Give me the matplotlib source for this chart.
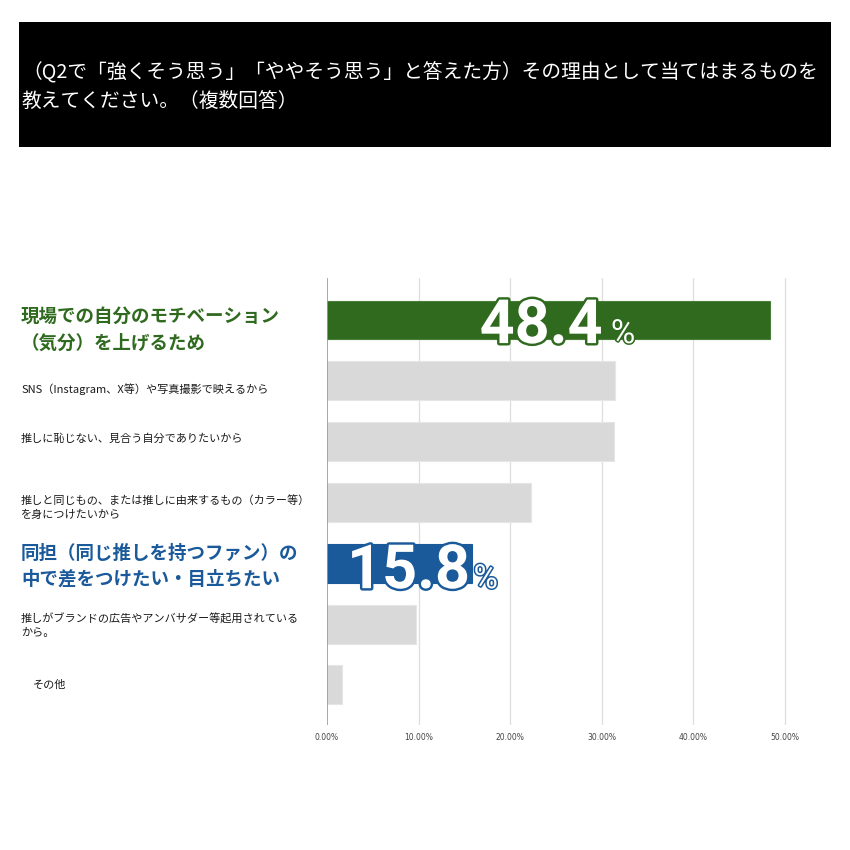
import matplotlib
matplotlib.use("Agg")
import matplotlib.pyplot as plt
import matplotlib.patheffects as pe
from matplotlib.transforms import blended_transform_factory
from matplotlib.patches import Rectangle

plt.rcParams['font.family'] = ['Noto Sans CJK JP', 'DejaVu Sans']

title = "（Q2で「強くそう思う」「ややそう思う」と答えた方）その理由として当てはまるものを\n教えてください。（複数回答）"
categories = [
    "現場での自分のモチベーション\n（気分）を上げるため",
    "SNS（Instagram、X等）や写真撮影で映えるから",
    "推しに恥じない、見合う自分でありたいから",
    "推しと同じもの、または推しに由来するもの（カラー等）\nを身につけたいから",
    "同担（同じ推しを持つファン）の\n中で差をつけたい・目立ちたい",
    "推しがブランドの広告やアンバサダー等起用されている\nから。",
    "その他",
]
values = [48.4, 31.5, 31.3, 22.3, 15.8, 9.7, 1.6]
xticks = [0, 10, 20, 30, 40, 50]
xticklabels = ["0.00%", "10.00%", "20.00%", "30.00%", "40.00%", "50.00%"]

GREEN = "#2f6a1f"
BLUE = "#1b5a9a"
GRAY = "#d9d9d9"
bar_colors = [GREEN, GRAY, GRAY, GRAY, BLUE, GRAY, GRAY]
edge_colors = ["#4a7d3a", "#e6e6e6", "#e6e6e6", "#e6e6e6", BLUE, "#e6e6e6", "#e6e6e6"]

fig = plt.figure(figsize=(8.5, 8.5), dpi=100)
fig.patch.set_facecolor("white")

# title box
fig.patches.append(Rectangle((19/850, 1-147/850), (831-19)/850, (147-22)/850,
                             transform=fig.transFigure, facecolor="black", edgecolor="none"))
fig.text(22/850, 1-87/850, title, color="white", fontsize=14.2, ha="left", va="center",
         linespacing=1.5)

ax = fig.add_axes([327/850, 1-725/850, (794-327)/850, (725-278)/850])
ypos = list(range(len(values)))
ax.barh(ypos, values, height=0.64, color=bar_colors, edgecolor=edge_colors,
        linewidth=0.8, zorder=3)
ax.set_xlim(0, 51)
ax.set_ylim(6.66, -0.69)
for s in ax.spines.values():
    s.set_visible(False)
ax.axvline(0, color="#999999", lw=1.2, zorder=4)
for t in xticks[1:]:
    ax.axvline(t, color="#dedede", lw=0.9, zorder=1)
ax.set_yticks([])
ax.set_xticks(xticks)
ax.set_xticklabels(xticklabels, fontsize=5.5, color="#444444", family=["DejaVu Sans"])
ax.tick_params(axis="x", length=0, pad=6)

# left labels
tr = blended_transform_factory(fig.transFigure, ax.transData)
styles = {0: dict(fontsize=13.3, color=GREEN, fontweight="bold", linespacing=1.55),
          4: dict(fontsize=13.3, color=BLUE, fontweight="bold", linespacing=1.5)}
offsets = [0.16, 0.13, -0.05, 0.08, 0.05, 0.03, 0.0]
for i, lab in enumerate(categories):
    st = styles.get(i, dict(fontsize=8, color="#1a1a1a", linespacing=1.45))
    x = 21/850 if i != 6 else 33/850
    ax.text(x, ypos[i] + offsets[i], lab, transform=tr, ha="left", va="center", **st)

# big numbers
def big(ival, xnum, xpct, dy, col):
    ax.text(xnum, ypos[ival] + dy, f"{values[ival]:.1f}", ha="right", va="baseline",
            fontsize=44, fontweight="bold", color="white", family=["Roboto", "DejaVu Sans"],
            path_effects=[pe.withStroke(linewidth=3.5, foreground=col)], zorder=6)
    ax.text(xpct, ypos[ival] + dy, "%", ha="left", va="baseline",
            fontsize=24, color="white", family=["Roboto", "DejaVu Sans"],
            path_effects=[pe.withStroke(linewidth=2.2, foreground=col)], zorder=6)

big(0, 30.1, 31.0, 0.38, GREEN)
big(4, 15.6, 16.0, 0.41, BLUE)

fig.savefig("out.png", dpi=100, facecolor="white")
